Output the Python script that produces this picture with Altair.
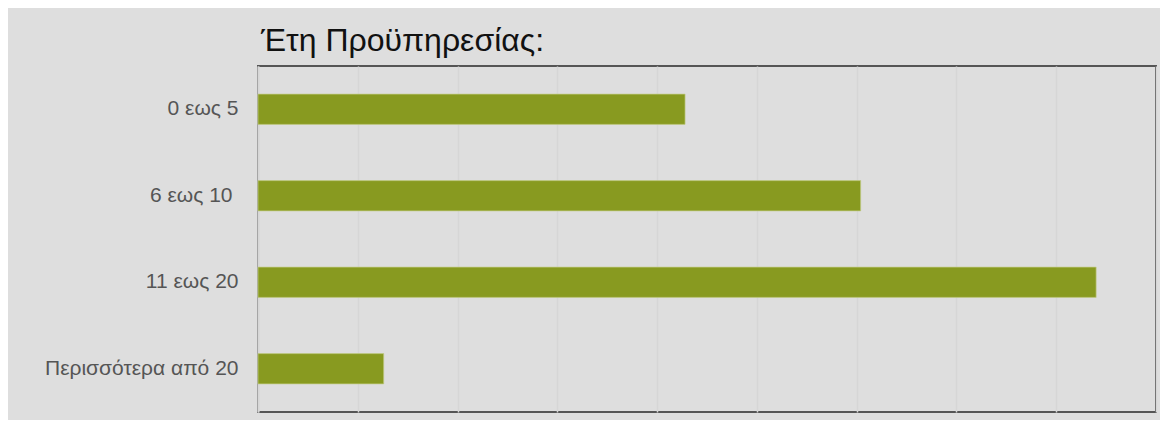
import altair as alt
import pandas as pd

categories = ["0 εως 5", "6 εως 10", "11 εως 20", "Περισσότερα από 20"]
values = [21.4, 30.2, 42.0, 6.3]
grid_values = [0, 5, 10, 15, 20, 25, 30, 35, 40, 45]

df = pd.DataFrame({"cat": categories, "val": values})

chart = alt.Chart(df).mark_bar(
    color="#889a20", stroke="#c2cc86", strokeWidth=1, strokeOpacity=0.7
).encode(
    x=alt.X("val:Q", scale=alt.Scale(domain=[0, 45], nice=False, zero=True),
            axis=alt.Axis(values=grid_values, labels=False, ticks=False, title=None,
                          domain=False, grid=True, gridColor="#d6d6d6", gridWidth=1.5)),
    y=alt.Y("cat:N", sort=categories,
            scale=alt.Scale(paddingInner=0.65, paddingOuter=0.325),
            axis=alt.Axis(title=None, ticks=False,
                          labelPadding={"condition": {"test": "datum.value === '6 εως 10'", "value": 26}, "value": 20},
                          labelFontSize=21,
                          labelFont="Liberation Sans", labelColor="#555555", labelLimit=0,
                          domain=True, domainColor="#d6d6d6", domainWidth=2, grid=False)),
).properties(
    width=898,
    height=346,
    title=alt.TitleParams("Έτη Προϋπηρεσίας:", anchor="start", frame="group",
                          fontSize=32, font="Liberation Sans", fontWeight="normal",
                          color="#111111", offset=8, dx=3),
    autosize=alt.AutoSizeParams(type="none"),
    padding={"left": 250, "top": 58, "right": 4, "bottom": 8},
    background="#dedede",
).configure_view(
    stroke="#555555", strokeWidth=2
)

chart.save("out.html", embed_options={"renderer": "svg", "actions": False})
